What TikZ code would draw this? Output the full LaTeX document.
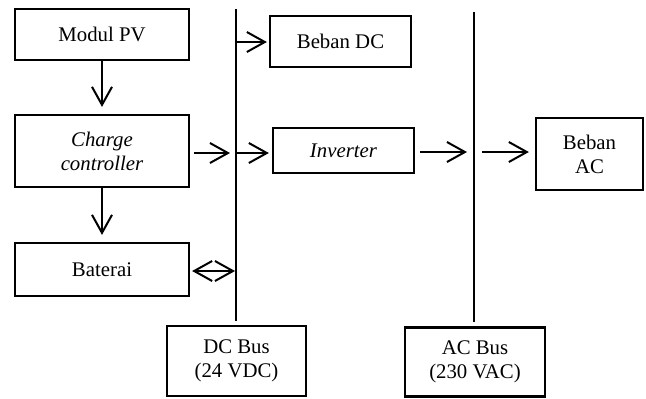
\documentclass[tikz,border=0pt]{standalone}
\usepackage{fontspec}
\setmainfont{Liberation Serif}
\usetikzlibrary{arrows.meta,positioning,calc}

\begin{document}
\begin{tikzpicture}[x=0.5pt, y=-0.5pt, >={Straight Barb[length=9pt,width=10pt]},
    blok/.style={draw, line width=1.1pt, align=center, inner sep=2pt,
                 font=\fontsize{10.4}{12}\selectfont},
    panah/.style={->, line width=1pt},
    bus/.style={line width=0.7pt}]
        \useasboundingbox (0,0) rectangle (646,398);

        \node[blok, minimum width=87pt, minimum height=25.5pt] (PV) at (102,34.5) {Modul PV};
        \node[blok, minimum width=87pt, minimum height=36pt] (CC) at (102,151) {\textit{Charge}\\\textit{controller}};
        \node[blok, minimum width=87pt, minimum height=26.5pt] (Bat) at (102,269.5) {Baterai};
        \node[blok, minimum width=70.5pt, minimum height=25.5pt] (BebanDC) at (340.5,41.5) {Beban DC};
        \node[blok, minimum width=70.5pt, minimum height=22.5pt] (Inv) at (343.5,150.5) {\textit{Inverter}};
        \node[blok, minimum width=53.5pt, minimum height=36pt] (BebanAC) at (589.5,154) {Beban\\AC};
        \node[blok, minimum width=69.5pt, minimum height=35pt] (DCBus) at (236.5,361) {DC Bus\\(24 VDC)};
        \node[blok, minimum width=70pt, minimum height=34.5pt] (ACBus) at (475,362) {AC Bus\\(230 VAC)};

        % rel bus
        \coordinate (DCtop) at (236,9);
        \coordinate (ACtop) at (474,12);
        \draw[bus] (DCtop) -- (DCtop |- DCBus.north) [shorten >=2pt];
        \draw[bus] (ACtop) -- (ACtop |- ACBus.north) [shorten >=2pt];

        \coordinate (DC1) at (236,42);
        \coordinate (DC2) at (236,153);
        \coordinate (DC3) at (236,271);
        \coordinate (AC1) at (474,152);

        \draw[panah, shorten >=3.5pt] (PV) -- (CC);
        \draw[panah, shorten >=3.5pt] (CC) -- (Bat);
        \draw[panah, shorten <=2pt, shorten >=3pt] (CC.east |- DC2) -- (DC2);
        \draw[panah, shorten >=1.5pt] (DC2) -- (DC2 -| Inv.west);
        \draw[panah, shorten >=1pt] (DC1) -- (DC1 -| BebanDC.west);
        \draw[<->, line width=1pt, shorten <=1pt, shorten >=0.5pt] (Bat.east |- DC3) -- (DC3);
        \draw[panah, shorten <=2.5pt, shorten >=3.5pt] (Inv.east |- AC1) -- (AC1);
        \draw[panah, shorten <=4pt, shorten >=3pt] (AC1) -- (AC1 -| BebanAC.west);
\end{tikzpicture}
\end{document}
